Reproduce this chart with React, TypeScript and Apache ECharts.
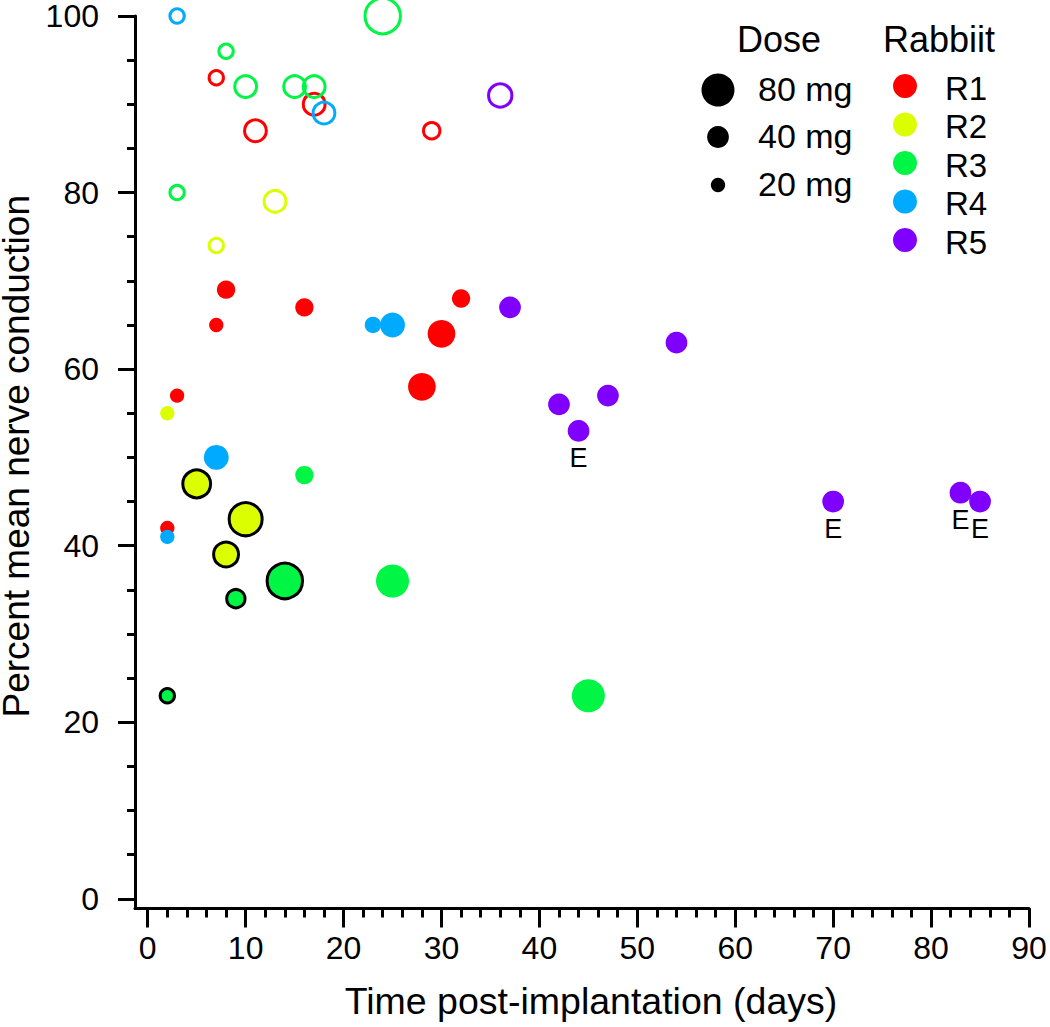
import React, { useEffect, useRef } from "react";
import * as echarts from "echarts";

const FONT = '"Liberation Sans", Arial, Helvetica, sans-serif';

// Tick positions / labels
const xMajorTicks = [0, 10, 20, 30, 40, 50, 60, 70, 80, 90];
const xMinorTicks = [0, 2, 4, 6, 8, 10, 12, 14, 16, 18, 20, 22, 24, 26, 28, 30, 32, 34, 36, 38, 40, 42, 44, 46, 48, 50, 52, 54, 56, 58, 60, 62, 64, 66, 68, 70, 72, 74, 76, 78, 80, 82, 84, 86, 88, 90];
const yMajorTicks = [0, 20, 40, 60, 80, 100];
const yMinorTicks = [0, 5, 10, 15, 20, 25, 30, 35, 40, 45, 50, 55, 60, 65, 70, 75, 80, 85, 90, 95, 100];

// Rabbits
const rabbits = ["R1", "R2", "R3", "R4", "R5"];
const rabbitColors = ["#ff0000", "#dbff00", "#00f545", "#00aaff", "#7f00ff"];

// Dose legend
const doseLegend = [80, 40, 20];

// Data: [day, percent, dose mg]
// open circles
const r1Open = [[7, 93, 20], [17, 90, 40], [11, 87, 40], [29, 87, 25]];
const r2Open = [[13, 79, 40], [7, 74, 20]];
const r3Open = [[8, 96, 20], [10, 92, 40], [15, 92, 40], [17, 92, 40], [24, 100, 90], [3, 80, 20]];
const r4Open = [[3, 100, 20], [18, 89, 40]];
const r5Open = [[36, 91, 45]];
// filled circles
const r1Filled = [[8, 69, 30], [16, 67, 30], [7, 65, 20], [32, 68, 30], [30, 64, 60], [28, 58, 60], [3, 57, 20], [2, 42, 20]];
const r2Filled = [[2, 55, 20]];
const r3Filled = [[16, 48, 30], [25, 36, 80], [45, 23, 80]];
const r4Filled = [[23, 65, 25], [25, 65, 50], [7, 50, 50], [2, 41, 20]];
const r5Filled = [[37, 67, 40], [54, 63, 40], [42, 56, 40], [47, 57, 40], [44, 53, 40], [70, 45, 40], [83, 46, 40], [85, 45, 40]];
const r5Marks = ["", "", "", "", "E", "E", "E", "E"];
// filled circles with black outline
const r2Outlined = [[5, 47, 60], [10, 43, 80], [8, 39, 50]];
const r3Outlined = [[14, 36, 90], [9, 34, 30], [2, 23, 20]];

const openSets = [r1Open, r2Open, r3Open, r4Open, r5Open];
const filledSets = [r1Filled, r2Filled, r3Filled, r4Filled, r5Filled];
const outlinedSets = [[], r2Outlined, r3Outlined, [], []];
const markSets = [[], [], [], [], r5Marks];

const doseSize = (dose: number) => 33 * Math.pow(dose / 80, 0.6);

export default function App() {
  const ref = useRef<HTMLDivElement>(null);
  useEffect(() => {
    if (!ref.current) return;
    const chart = echarts.init(ref.current, undefined, { renderer: "svg" });

    const series: any[] = [];
    rabbits.forEach((name, i) => {
      const color = rabbitColors[i];
      series.push({
        name: name + " open",
        type: "scatter",
        symbol: "circle",
        symbolSize: (v: number[]) => doseSize(v[2]),
        data: openSets[i],
        itemStyle: { color: "rgba(0,0,0,0)", borderColor: color, borderWidth: 3, opacity: 1 },
        emphasis: { disabled: true },
      });
      series.push({
        name: name + " filled",
        type: "scatter",
        symbol: "circle",
        symbolSize: (v: number[]) => doseSize(v[2]),
        data: filledSets[i].map((p, k) => {
          const mark = markSets[i][k];
          return mark
            ? {
                value: p,
                label: {
                  show: true,
                  formatter: mark,
                  position: "bottom",
                  distance: 3,
                  fontSize: 27,
                  color: "#000",
                  fontFamily: FONT,
                },
              }
            : { value: p };
        }),
        itemStyle: { color, opacity: 1 },
        emphasis: { disabled: true },
      });
      if (outlinedSets[i].length) {
        series.push({
          name: name + " outlined",
          type: "scatter",
          symbol: "circle",
          symbolSize: (v: number[]) => doseSize(v[2]),
          data: outlinedSets[i],
          itemStyle: { color, borderColor: "#000", borderWidth: 3, opacity: 1 },
          emphasis: { disabled: true },
        });
      }
    });

    const graphic: any[] = [];
    graphic.push({
      type: "text",
      style: { text: "Dose", x: 779, y: 39, textAlign: "center", textVerticalAlign: "middle", font: `36px ${FONT}`, fill: "#000" },
    });
    graphic.push({
      type: "text",
      style: { text: "Rabbiit", x: 939, y: 39, textAlign: "center", textVerticalAlign: "middle", font: `36px ${FONT}`, fill: "#000" },
    });
    const doseY = [90, 137, 185];
    doseLegend.forEach((d, k) => {
      graphic.push({ type: "circle", shape: { cx: 718, cy: doseY[k], r: doseSize(d) / 2 }, style: { fill: "#000" } });
      graphic.push({
        type: "text",
        style: { text: `${d} mg`, x: 758, y: doseY[k] - 1, textAlign: "left", textVerticalAlign: "middle", font: `34px ${FONT}`, fill: "#000" },
      });
    });
    const rabY = [86, 124.5, 163, 201.5, 240];
    rabbits.forEach((name, k) => {
      graphic.push({ type: "circle", shape: { cx: 905, cy: rabY[k], r: 12 }, style: { fill: rabbitColors[k] } });
      graphic.push({
        type: "text",
        style: { text: name, x: 945, y: rabY[k] + 2, textAlign: "left", textVerticalAlign: "middle", font: `33px ${FONT}`, fill: "#000" },
      });
    });

    const axisCommon = {
      type: "value",
      splitLine: { show: false },
    };

    const option: any = {
      animation: false,
      textStyle: { fontFamily: FONT },
      grid: { left: 135, right: 21, top: 16, bottom: 118.5, containLabel: false, outerBoundsMode: "none" },
      xAxis: [
        {
          ...axisCommon,
          min: -1.3,
          max: 90,
          position: "bottom",
          axisLine: { show: true, onZero: false, lineStyle: { color: "#000", width: 3 } },
          axisTick: { show: true, customValues: xMajorTicks, length: 19, lineStyle: { color: "#000", width: 3 } },
          axisLabel: { show: true, customValues: xMajorTicks, fontSize: 32, color: "#000", margin: 23, fontFamily: FONT },
          name: "Time post-implantation (days)",
          nameLocation: "middle",
          nameGap: 73,
          nameTextStyle: { fontSize: 37.5, color: "#000", fontFamily: FONT, padding: [0, 0, 0, 18] },
        },
        {
          ...axisCommon,
          min: -1.3,
          max: 90,
          position: "bottom",
          offset: 0,
          axisLine: { show: false, onZero: false },
          axisTick: { show: true, customValues: xMinorTicks, length: 9, lineStyle: { color: "#000", width: 3 } },
          axisLabel: { show: false },
        },
      ],
      yAxis: [
        {
          ...axisCommon,
          min: -1.1,
          max: 100,
          position: "left",
          axisLine: { show: true, onZero: false, lineStyle: { color: "#000", width: 3 } },
          axisTick: { show: true, customValues: yMajorTicks, length: 17, lineStyle: { color: "#000", width: 3 } },
          axisLabel: { show: true, customValues: yMajorTicks, fontSize: 32, lineHeight: 28, color: "#000", margin: 36, fontFamily: FONT },
          name: "Percent mean nerve conduction",
          nameLocation: "middle",
          nameGap: 94,
          nameRotate: 90,
          nameTextStyle: { fontSize: 37, lineHeight: 36, color: "#000", fontFamily: FONT, padding: [0, 0, 0, 12] },
        },
        {
          ...axisCommon,
          min: -1.1,
          max: 100,
          position: "left",
          offset: 0,
          axisLine: { show: false, onZero: false },
          axisTick: { show: true, customValues: yMinorTicks, length: 8, lineStyle: { color: "#000", width: 3 } },
          axisLabel: { show: false },
        },
      ],
      series,
      graphic,
    };
    chart.setOption(option);
    return () => chart.dispose();
  }, []);
  return <div ref={ref} style={{ position: "absolute", left: 0, top: 0, width: 1050, height: 1027 }} />;
}
